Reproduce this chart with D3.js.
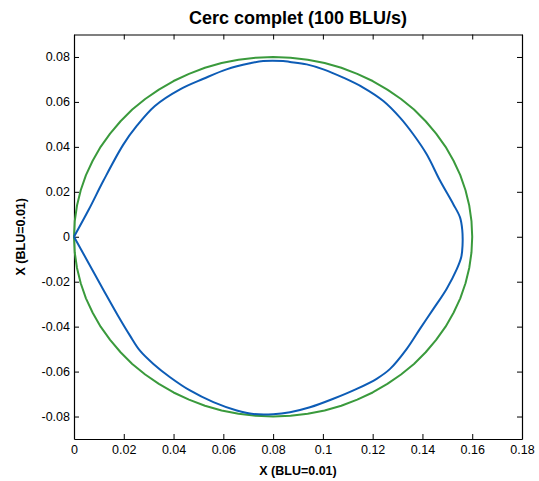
<!DOCTYPE html>
<html>
<head>
<meta charset="utf-8">
<script src="https://cdn.jsdelivr.net/npm/d3@7"></script>
<style>
  html, body { margin: 0; padding: 0; background: #fff; }
  svg { display: block; }
  text { font-family: "Liberation Sans", Arial, sans-serif; }
</style>
</head>
<body>
<svg id="chart" width="539" height="481"></svg>
<script>
// ---- Data ----
const titleText = "Cerc complet (100 BLU/s)";
const xLabelText = "X (BLU=0.01)";
const yLabelText = "X (BLU=0.01)";

const xTicks = [0, 0.02, 0.04, 0.06, 0.08, 0.1, 0.12, 0.14, 0.16, 0.18];
const xTickLabels = ["0", "0.02", "0.04", "0.06", "0.08", "0.1", "0.12", "0.14", "0.16", "0.18"];
const yTicks = [-0.08, -0.06, -0.04, -0.02, 0, 0.02, 0.04, 0.06, 0.08];
const yTickLabels = ["-0.08", "-0.06", "-0.04", "-0.02", "0", "0.02", "0.04", "0.06", "0.08"];

// reference circle (green)
const greenX = [0.0000, 0.0003, 0.0012, 0.0027, 0.0048, 0.0075, 0.0107, 0.0145, 0.0187, 0.0234,
                0.0286, 0.0341, 0.0400, 0.0462, 0.0526, 0.0593, 0.0661, 0.0730, 0.0800,
                0.0870, 0.0939, 0.1007, 0.1074, 0.1138, 0.1200, 0.1259, 0.1314, 0.1366,
                0.1413, 0.1455, 0.1493, 0.1525, 0.1552, 0.1573, 0.1588, 0.1597, 0.1600,
                0.1597, 0.1588, 0.1573, 0.1552, 0.1525, 0.1493, 0.1455, 0.1413, 0.1366,
                0.1314, 0.1259, 0.1200, 0.1138, 0.1074, 0.1007, 0.0939, 0.0870, 0.0800,
                0.0730, 0.0661, 0.0593, 0.0526, 0.0462, 0.0400, 0.0341, 0.0286, 0.0234,
                0.0187, 0.0145, 0.0107, 0.0075, 0.0048, 0.0027, 0.0012, 0.0003, 0.0000];
const greenY = [0.0000, 0.0070, 0.0139, 0.0207, 0.0274, 0.0338, 0.0400, 0.0459, 0.0514, 0.0566,
                0.0613, 0.0655, 0.0693, 0.0725, 0.0752, 0.0773, 0.0788, 0.0797, 0.0800,
                0.0797, 0.0788, 0.0773, 0.0752, 0.0725, 0.0693, 0.0655, 0.0613, 0.0566,
                0.0514, 0.0459, 0.0400, 0.0338, 0.0274, 0.0207, 0.0139, 0.0070, 0.0000,
                -0.0070, -0.0139, -0.0207, -0.0274, -0.0338, -0.0400, -0.0459, -0.0514, -0.0566,
                -0.0613, -0.0655, -0.0693, -0.0725, -0.0752, -0.0773, -0.0788, -0.0797, -0.0800,
                -0.0797, -0.0788, -0.0773, -0.0752, -0.0725, -0.0693, -0.0655, -0.0613, -0.0566,
                -0.0514, -0.0459, -0.0400, -0.0338, -0.0274, -0.0207, -0.0139, -0.0070, 0.0000];

// measured trajectory (blue)
const blueX = [0.0000, 0.0060, 0.0118, 0.0198, 0.0252, 0.0325, 0.0426, 0.0520, 0.0613, 0.0707,
               0.0760, 0.0840, 0.0868, 0.0935, 0.1002, 0.1082, 0.1162, 0.1243, 0.1310, 0.1363,
               0.1417, 0.1471, 0.1524, 0.1551, 0.1560, 0.1561, 0.1556, 0.1538, 0.1497, 0.1444,
               0.1390, 0.1337, 0.1270, 0.1216, 0.1136, 0.1042, 0.0948, 0.0868, 0.0800, 0.0721,
               0.0654, 0.0560, 0.0466, 0.0386, 0.0319, 0.0265, 0.0225, 0.0175, 0.0120, 0.0060,
               0.0000];
const blueY = [0.0000, 0.0122, 0.0249, 0.0410, 0.0493, 0.0582, 0.0656, 0.0703, 0.0745, 0.0772,
               0.0782, 0.0782, 0.0778, 0.0767, 0.0745, 0.0708, 0.0664, 0.0604, 0.0530, 0.0456,
               0.0367, 0.0249, 0.0145, 0.0086, 0.0030, -0.0040, -0.0090, -0.0144, -0.0232, -0.0321,
               -0.0410, -0.0499, -0.0588, -0.0632, -0.0677, -0.0721, -0.0759, -0.0781, -0.0790, -0.0789,
               -0.0773, -0.0736, -0.0684, -0.0625, -0.0566, -0.0507, -0.0440, -0.0348, -0.0240, -0.0120,
               0.0000];

// ---- Layout ----
const svg = d3.select("#chart");
const L = 74, R = 522, T = 34.5, B = 439;

const x = d3.scaleLinear().domain([0, 0.18]).range([L, R]);
const y = d3.scaleLinear().domain([-0.09, 0.09]).range([B, T]);

svg.append("rect").attr("width", 539).attr("height", 481).attr("fill", "#fff");

// axes
const gBottom = svg.append("g").attr("transform", `translate(0,${B})`)
  .call(d3.axisBottom(x).tickValues(xTicks).tickFormat((d, i) => xTickLabels[i])
    .tickSizeInner(-5).tickSizeOuter(0).tickPadding(6));
const gTop = svg.append("g").attr("transform", `translate(0,${T})`)
  .call(d3.axisTop(x).tickValues(xTicks).tickFormat("").tickSizeInner(-5).tickSizeOuter(0));
const gLeft = svg.append("g").attr("transform", `translate(${L},0)`)
  .call(d3.axisLeft(y).tickValues(yTicks).tickFormat((d, i) => yTickLabels[i])
    .tickSizeInner(-5).tickSizeOuter(0).tickPadding(4));
const gRight = svg.append("g").attr("transform", `translate(${R},0)`)
  .call(d3.axisRight(y).tickValues(yTicks).tickFormat("").tickSizeInner(-5).tickSizeOuter(0));

[gBottom, gTop, gLeft, gRight].forEach(g => {
  g.select(".domain").attr("stroke", "#000").attr("stroke-width", 1.2);
  g.selectAll(".tick line").attr("stroke", "#000");
  g.selectAll(".tick text").attr("font-size", 12.5).attr("fill", "#000")
    .attr("font-family", "Liberation Sans, Arial, sans-serif");
});

// lines
const line = d3.line().x(d => x(d[0])).y(d => y(d[1]));
const greenPts = greenX.map((v, i) => [v, greenY[i]]);
const bluePts = blueX.map((v, i) => [v, blueY[i]]);

svg.append("path").datum(greenPts).attr("d", line)
  .attr("fill", "none").attr("stroke", "#3a9a3c").attr("stroke-width", 2)
  .attr("stroke-linejoin", "round");
svg.append("path").datum(bluePts).attr("d", d3.line().x(d => x(d[0])).y(d => y(d[1])).curve(d3.curveCatmullRom))
  .attr("fill", "none").attr("stroke", "#0d5cb6").attr("stroke-width", 2)
  .attr("stroke-linejoin", "round");

// titles
svg.append("text").attr("x", (L + R) / 2).attr("y", 24).attr("text-anchor", "middle")
  .attr("font-size", 18).attr("font-weight", "bold").text(titleText);
svg.append("text").attr("x", (L + R) / 2).attr("y", 475).attr("text-anchor", "middle")
  .attr("font-size", 12.5).attr("font-weight", "bold").text(xLabelText);
svg.append("text").attr("transform", `translate(25,${(T + B) / 2}) rotate(-90)`)
  .attr("text-anchor", "middle").attr("font-size", 12.5).attr("font-weight", "bold").text(yLabelText);
</script>
</body>
</html>
